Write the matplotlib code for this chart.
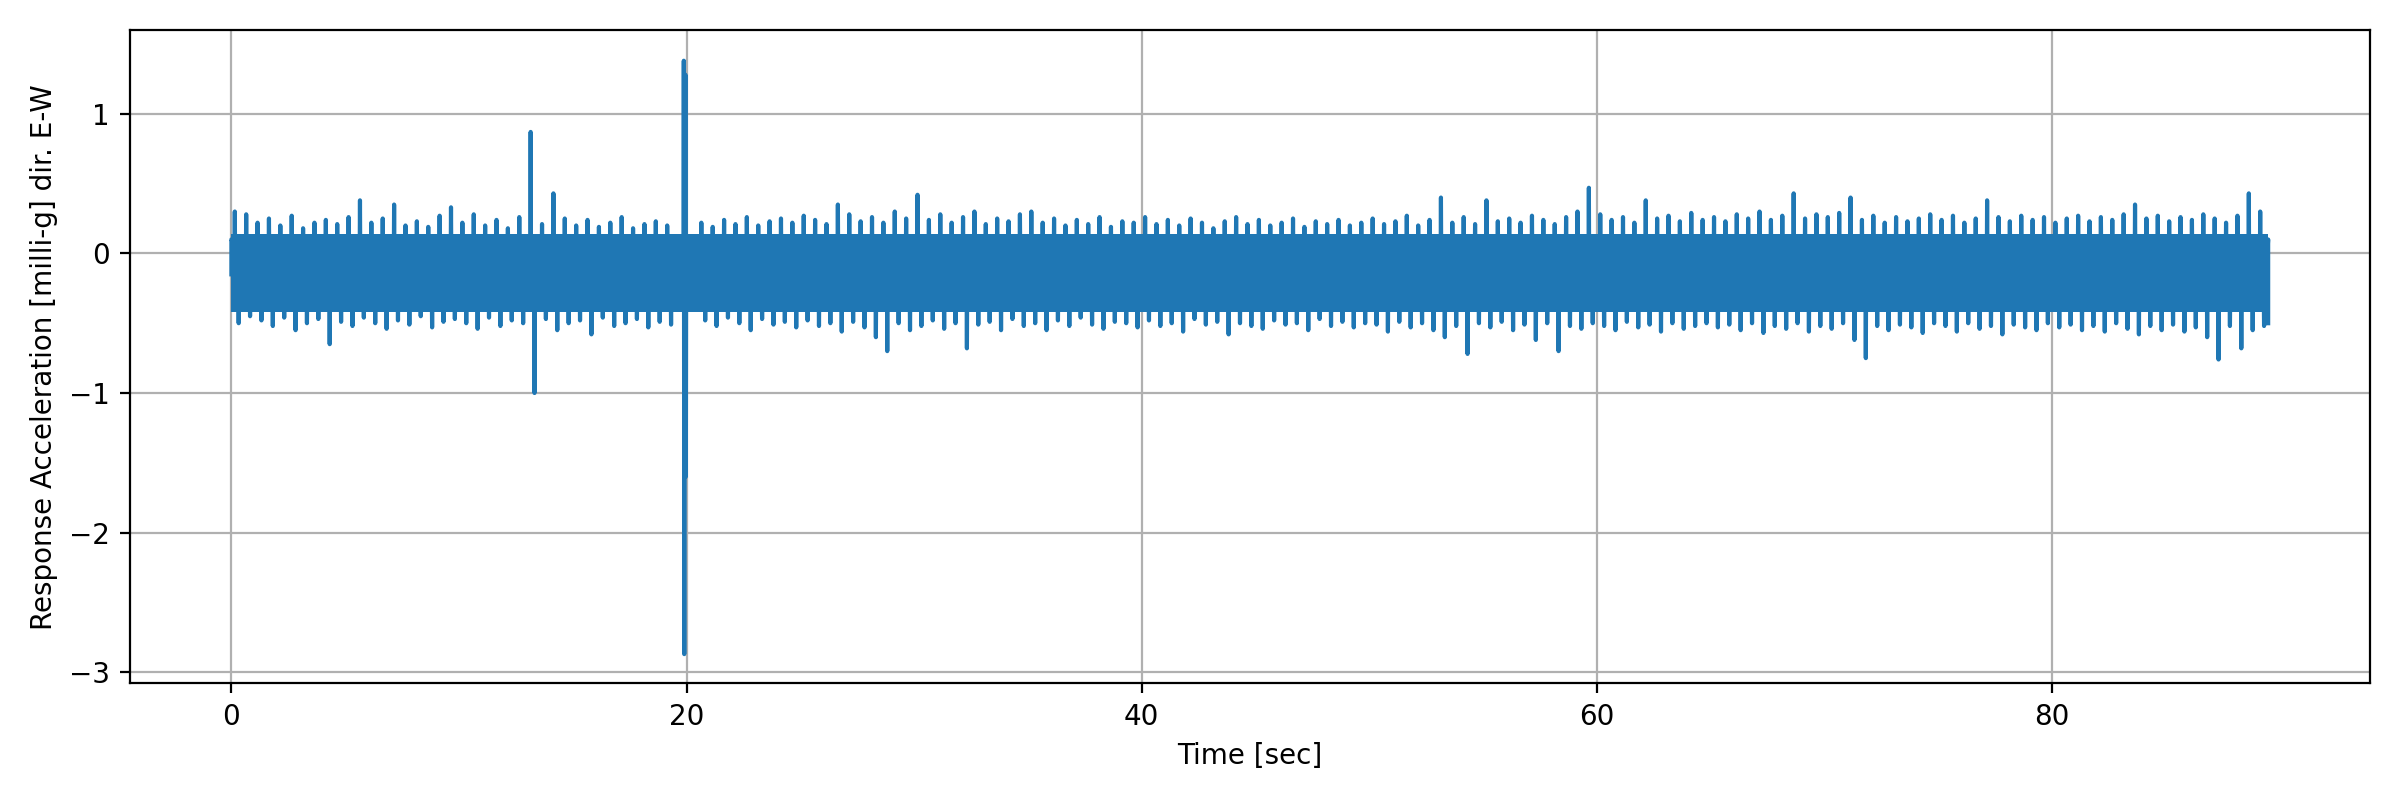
import matplotlib
matplotlib.use("Agg")
import matplotlib.pyplot as plt

seg = 0.5  # seconds per segment, t_end 89.5
upper = [0.30,0.28,0.22,0.25,0.20,0.27,0.18,0.22,0.24,0.21,
0.26,0.38,0.22,0.25,0.35,0.20,0.23,0.19,0.27,0.33,
0.22,0.28,0.20,0.24,0.18,0.26,0.87,0.21,0.43,0.25,
0.20,0.24,0.19,0.22,0.26,0.18,0.21,0.23,0.20,1.38,
1.28,0.22,0.19,0.24,0.21,0.26,0.20,0.23,0.25,0.22,
0.27,0.24,0.21,0.35,0.28,0.23,0.26,0.22,0.30,0.25,
0.42,0.24,0.28,0.22,0.26,0.30,0.21,0.25,0.23,0.28,
0.30,0.22,0.25,0.20,0.24,0.21,0.26,0.19,0.23,0.22,
0.26,0.21,0.24,0.20,0.25,0.22,0.18,0.23,0.26,0.21,
0.24,0.20,0.22,0.25,0.19,0.23,0.21,0.24,0.20,0.22,
0.25,0.21,0.23,0.27,0.20,0.24,0.40,0.22,0.26,0.21,
0.38,0.23,0.25,0.22,0.27,0.24,0.21,0.26,0.30,0.47,
0.28,0.24,0.26,0.22,0.38,0.25,0.27,0.23,0.29,0.24,
0.26,0.23,0.28,0.25,0.30,0.24,0.27,0.43,0.25,0.28,
0.26,0.29,0.40,0.24,0.27,0.22,0.26,0.23,0.25,0.28,
0.24,0.27,0.22,0.25,0.38,0.26,0.23,0.27,0.24,0.26,
0.22,0.25,0.27,0.23,0.26,0.24,0.28,0.35,0.25,0.27,
0.23,0.26,0.24,0.28,0.25,0.22,0.27,0.43,0.30]
lower = [-0.50,-0.45,-0.48,-0.52,-0.46,-0.55,-0.50,-0.47,-0.65,-0.49,
-0.52,-0.46,-0.50,-0.54,-0.48,-0.51,-0.45,-0.53,-0.49,-0.47,
-0.50,-0.54,-0.46,-0.52,-0.48,-0.50,-1.00,-0.47,-0.55,-0.50,
-0.48,-0.58,-0.46,-0.52,-0.50,-0.47,-0.53,-0.49,-0.51,-2.87,
-1.60,-0.48,-0.52,-0.46,-0.50,-0.55,-0.47,-0.51,-0.49,-0.53,
-0.48,-0.52,-0.50,-0.56,-0.49,-0.53,-0.60,-0.70,-0.50,-0.55,
-0.52,-0.48,-0.54,-0.50,-0.68,-0.51,-0.49,-0.55,-0.47,-0.52,
-0.50,-0.55,-0.48,-0.52,-0.46,-0.51,-0.54,-0.49,-0.50,-0.53,
-0.48,-0.52,-0.50,-0.56,-0.47,-0.51,-0.49,-0.58,-0.50,-0.52,
-0.54,-0.48,-0.51,-0.50,-0.55,-0.47,-0.52,-0.49,-0.53,-0.50,
-0.51,-0.56,-0.49,-0.53,-0.50,-0.55,-0.60,-0.52,-0.72,-0.50,
-0.53,-0.49,-0.55,-0.51,-0.62,-0.50,-0.70,-0.52,-0.54,-0.50,
-0.52,-0.55,-0.49,-0.53,-0.51,-0.56,-0.50,-0.54,-0.52,-0.50,
-0.53,-0.51,-0.55,-0.50,-0.57,-0.52,-0.54,-0.50,-0.56,-0.52,
-0.54,-0.50,-0.62,-0.75,-0.52,-0.55,-0.51,-0.53,-0.57,-0.50,
-0.52,-0.56,-0.50,-0.54,-0.52,-0.58,-0.51,-0.53,-0.55,-0.50,
-0.53,-0.51,-0.55,-0.52,-0.56,-0.50,-0.54,-0.58,-0.52,-0.55,
-0.51,-0.56,-0.53,-0.60,-0.76,-0.52,-0.68,-0.55,-0.52]
core_lo, core_hi = -0.42, 0.14
t_end = 89.5

t, y = [0.0, 0.0], [-0.15, 0.1]
for i, (u, l) in enumerate(zip(upper, lower)):
    a = i*seg + 0.15
    b = i*seg + 0.32
    if i == 39:
        a, b = 19.88, 19.9
    if i == 40:
        a, b = 19.95, 19.97
    t += [a - 0.01, a, a + 0.01, b - 0.01, b, b + 0.01]
    y += [0.05, u, 0.05, -0.35, l, -0.35]
t += [t_end, t_end]; y += [0.1, -0.5]

fig, ax = plt.subplots(figsize=(12, 4), dpi=200)
ax.grid(True, zorder=0)
ax.set_axisbelow(True)
ax.fill_between([0, t_end], core_lo, core_hi, color='#1f77b4', lw=0, zorder=2)
ax.plot(t, y, color='#1f77b4', lw=1.5, zorder=2)
ax.set_xlabel('Time [sec]')
ax.set_ylabel('Response Acceleration [milli-g] dir. E-W')
ax.set_ylim(-3.08, 1.6)
fig.tight_layout()
fig.savefig('out.png')
